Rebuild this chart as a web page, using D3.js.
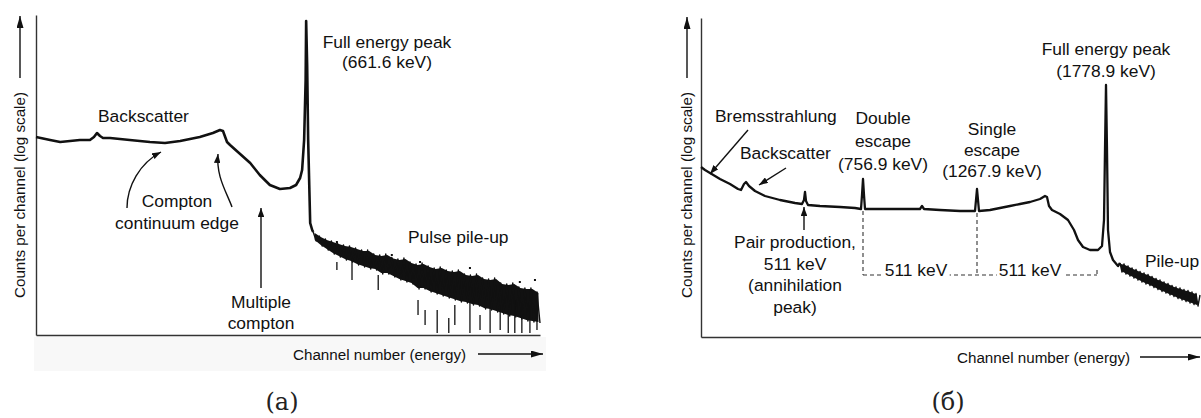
<!DOCTYPE html>
<html><head><meta charset="utf-8">
<script src="https://cdn.jsdelivr.net/npm/d3@7"></script>
<style>
body{margin:0;background:#fff}
svg{display:block}
text{font-family:"Liberation Sans",Arial,Helvetica,sans-serif;fill:#111}
.ann{font-size:17.4px}
.axl{font-size:15.2px}
.cap{font-family:"DejaVu Serif","Liberation Serif",serif;font-size:24px;fill:#222}
</style>
</head><body>
<svg id="c" width="1201" height="418"></svg>
<script>
// ---------------- DATA ----------------
// (a) Cs-137 spectrum: channel, log10(counts)
const csChannels = [0,28,48,87,107,115,121,127,133,147,186,226,256,286,325,351,365,371,379,385,405,425,444,464,484,504,516,524,528,532,535,536,538,540,544,548];
const csLogCounts = [3.96,3.90,3.86,3.90,3.90,3.96,4.04,3.98,3.94,3.94,3.90,3.86,3.84,3.88,3.96,4.04,4.10,4.08,3.86,3.80,3.62,3.44,3.20,3.00,2.92,2.94,3.00,3.14,3.30,3.90,5.10,6.28,5.40,3.90,2.24,2.10];
// (a) pulse pile-up region, channels 550.. step 6 (alternating upper / lower scatter)
const csPileupStart = 550, csPileupStep = 6;
const csPileupLog = [2.06,1.88,1.98,1.78,1.92,1.70,1.88,1.62,1.84,1.56,1.80,1.50,1.78,1.46,1.74,1.40,1.70,1.36,1.70,1.32,
  1.62,1.30,1.60,1.22,1.62,1.22,1.55,1.16,1.52,1.10,1.54,1.06,1.46,1.02,1.42,0.92,1.44,0.92,1.38,0.86,
  1.34,0.82,1.36,0.78,1.30,0.74,1.28,0.70,1.30,0.66,1.22,0.64,1.20,0.60,1.22,0.58,1.14,0.52,1.12,0.50,
  1.14,0.46,1.04,0.42,1.02,0.38,1.04,0.36,0.96,0.32,0.94,0.28,0.94,0.26,0.86,0.24];
// (a) sparse low-count streaks
const csStreakCh   = [597,627,679,758,772,796,819,831,861,881,901,921,937,950,964,980,994];
const csStreakLow  = [1.30,1.10,0.90,0.40,0.20,0.04,0.04,0.20,0.04,0.10,0.04,0.10,0.04,0.04,0.04,0.04,0.10];
const csStreakHigh = [1.46,1.50,1.20,0.70,0.50,0.50,0.34,0.60,0.70,0.40,0.70,0.60,0.50,0.70,0.40,0.60,0.70];
// (a) isolated counts above band
const csDotCh  = [597,613,706,762,861,960,990];
const csDotLog = [1.86,1.74,1.60,1.46,1.34,1.06,1.10];

// (б) spectrum with 1778.9 keV line: channel, log10(counts)
const alChannels = [0,8,18,38,58,74,80,86,90,96,108,128,158,188,202,206,208,210,214,238,278,308,320,322,324,326,328,358,398,438,442,446,478,518,548,550,552,554,556,578,598,618,638,658,678,688,692,696,702,718,734,746,754,764,778,794,802,806,808,810,812,814,818,824,834];
const alLogCounts = [3.40,3.34,3.28,3.16,3.06,2.96,2.94,3.06,3.10,3.02,2.92,2.82,2.74,2.68,2.66,2.74,2.90,2.72,2.64,2.62,2.60,2.58,2.56,2.84,3.16,2.84,2.56,2.56,2.56,2.56,2.62,2.56,2.54,2.52,2.52,2.74,2.96,2.74,2.52,2.54,2.58,2.62,2.66,2.70,2.76,2.82,2.80,2.62,2.54,2.46,2.34,2.14,1.94,1.80,1.74,1.74,1.82,2.34,3.74,5.04,3.74,2.14,1.70,1.54,1.42];
// (б) pile-up tail, channels 838.. step 4 (alternating upper / lower scatter)
const alTailStart = 838, alTailStep = 4;
const alTailLog = [1.48,1.30,1.46,1.26,1.42,1.22,1.38,1.18,1.35,1.14,1.31,1.10,1.28,1.06,1.25,1.03,1.21,0.99,1.17,0.95,
  1.14,0.91,1.10,0.88,1.07,0.84,1.03,0.81,1.00,0.77,0.98,0.74,0.95,0.71,0.93,0.68,0.90,0.65,0.87,0.62,0.84];
// (б) escape peaks and full energy peak bases (channel, log10 counts at base)
const alPeakCh = [324, 552, 792];
const alPeakBase = [2.56, 2.52, 1.38];
const alGapLevel = 1.24;
const alGapLabels = ["511 keV", "511 keV"];

// ---------------- DRAW ----------------
const svg = d3.select("#c");
const ink = "#111";
const defs = svg.append("defs");
function marker(id, w, h){
  defs.append("marker").attr("id", id).attr("viewBox", `0 0 ${w} ${h}`)
    .attr("refX", w).attr("refY", h/2).attr("markerWidth", w).attr("markerHeight", h)
    .attr("markerUnits", "userSpaceOnUse").attr("orient", "auto")
    .append("path").attr("d", `M0,0 L${w},${h/2} L0,${h} Z`).attr("fill", ink);
}
marker("big", 12, 7);
marker("sm", 9, 6.5);

// light scan tone under left axis
svg.append("rect").attr("x", 34).attr("y", 337).attr("width", 512).attr("height", 34).attr("fill", "#f8f8f8");

// scales
const xA = d3.scaleLinear().domain([0, 1000]).range([36, 540]);
const yA = d3.scaleLinear().domain([0, 6.4]).range([335, 15]);
const xB = d3.scaleLinear().domain([0, 1000]).range([701, 1201]);
const yB = d3.scaleLinear().domain([0, 6.38]).range([337, 18]);

function axes(x, y, x0, y0){
  const gx = svg.append("g").attr("transform", `translate(0,${y0})`)
    .call(d3.axisBottom(x).tickValues([]).tickSizeOuter(0));
  const gy = svg.append("g").attr("transform", `translate(${x0},0)`)
    .call(d3.axisLeft(y).tickValues([]).tickSizeOuter(0));
  [gx, gy].forEach(g => g.select(".domain").attr("stroke", "#333").attr("stroke-width", 1.4));
}
axes(xA, yA, 36, 335);
axes(xB, yB, 701, 337);

// noisy band: filled envelope of the upper/lower scatter, plus the jagged trace
function band(vals, start, step, x, y, sw){
  const pairs = [];
  for (let k = 0; k + 1 < vals.length; k += 2) {
    pairs.push({c: start + (k + 0.5) * step, hi: vals[k], lo: vals[k + 1]});
  }
  const area = d3.area().x(d => x(d.c)).y0(d => y(d.lo) - 1).y1(d => y(d.hi) + 1);
  svg.append("path").attr("d", area(pairs)).attr("fill", ink);
  const pts = vals.map((v, i) => [start + i * step, v]);
  svg.append("path").attr("d", d3.line().x(d => x(d[0])).y(d => y(d[1]))(pts))
    .attr("fill", "none").attr("stroke", ink).attr("stroke-width", sw).attr("stroke-linejoin", "round");
}

// (a) curve
const csMain = csChannels.map((c, i) => [c, csLogCounts[i]]);
const lineA = d3.line().x(d => xA(d[0])).y(d => yA(d[1]));
svg.append("path").attr("d", lineA(csMain.concat([[csPileupStart, csPileupLog[0]]]))).attr("fill", "none").attr("stroke", ink)
  .attr("stroke-width", 2.6).attr("stroke-linejoin", "round");
band(csPileupLog, csPileupStart, csPileupStep, xA, yA, 1.4);
svg.append("g").selectAll("line").data(csStreakCh).join("line")
  .attr("x1", d => xA(d)).attr("x2", d => xA(d))
  .attr("y1", (d, i) => yA(csStreakLow[i])).attr("y2", (d, i) => yA(csStreakHigh[i]))
  .attr("stroke", ink).attr("stroke-width", 1.3);
svg.append("g").selectAll("rect").data(csDotCh).join("rect")
  .attr("x", d => xA(d) - 1).attr("y", (d, i) => yA(csDotLog[i]) - 1).attr("width", 2).attr("height", 2).attr("fill", ink);

// (б) curve
const alMain = alChannels.map((c, i) => [c, alLogCounts[i]]);
const lineB = d3.line().x(d => xB(d[0])).y(d => yB(d[1]));
svg.append("path").attr("d", lineB(alMain.concat([[alTailStart, alTailLog[0]]]))).attr("fill", "none").attr("stroke", ink)
  .attr("stroke-width", 2.3).attr("stroke-linejoin", "round");
band(alTailLog, alTailStart, alTailStep, xB, yB, 1.4);

// (б) dashed 511 keV gaps
const dash = {stroke: "#333", "stroke-width": 1.1, "stroke-dasharray": "4,3"};
function dashed(x1, y1, x2, y2){
  const l = svg.append("line").attr("x1", x1).attr("y1", y1).attr("x2", x2).attr("y2", y2);
  Object.entries(dash).forEach(([k, v]) => l.attr(k, v));
}
alPeakCh.forEach((c, i) => dashed(xB(c), yB(alPeakBase[i]) + 2, xB(c), yB(alGapLevel)));
dashed(xB(alPeakCh[0]), yB(alGapLevel), xB(alPeakCh[2]), yB(alGapLevel));
const gapCenters = [916, 1030];
alGapLabels.forEach((t, i) => {
  const tx = svg.append("text").attr("class", "ann").attr("x", gapCenters[i]).attr("y", yB(alGapLevel) + 1)
    .attr("text-anchor", "middle").text(t);
  const b = tx.node().getBBox();
  svg.insert("rect", () => tx.node()).attr("x", b.x - 2).attr("y", b.y).attr("width", b.width + 4)
    .attr("height", b.height - 3).attr("fill", "#fff");
});

// ---------- text helpers ----------
function label(x, y, lines, anchor, dy, cls){
  const t = svg.append("text").attr("class", cls || "ann").attr("text-anchor", anchor || "middle");
  lines.forEach((s, i) => t.append("tspan").attr("x", x).attr("y", y + i * (dy || 22)).text(s));
  return t;
}
function arrowPath(d, m){
  svg.append("path").attr("d", d).attr("fill", "none").attr("stroke", ink).attr("stroke-width", 1.4)
    .attr("marker-end", `url(#${m || "sm"})`);
}

// (a) annotations
label(98, 122, ["Backscatter"], "start");
label(387, 48, ["Full energy peak", "(661.6 keV)"], "middle", 20);
label(177, 207, ["Compton", "continuum edge"], "middle", 22);
label(261, 308, ["Multiple", "compton"], "middle", 21);
label(408, 243, ["Pulse pile-up"], "start");
arrowPath("M127,208 C127,186 140,163 161,152");
arrowPath("M232,207 C226,191 216,176 218,154");
arrowPath("M261,288 L261,208");

// (б) annotations
label(715, 122, ["Bremsstrahlung"], "start");
label(740, 159, ["Backscatter"], "start");
label(883, 124, ["Double", "escape", "(756.9 keV)"], "middle", 23);
label(992, 135, ["Single", "escape", "(1267.9 keV)"], "middle", 21);
label(1106, 55, ["Full energy peak", "(1778.9 keV)"], "middle", 22);
label(795, 248, ["Pair production,", "511 keV", "(annihilation", "peak)"], "middle", 21.5);
label(1145, 267, ["Pile-up"], "start");
arrowPath("M748,130 L710,174");
arrowPath("M786,168 L759,185");
arrowPath("M804,230 L804,207");

// axis titles
svg.append("text").attr("class", "axl").attr("transform", "translate(25,298) rotate(-90)").text("Counts per channel (log scale)");
arrowPath("M20,78 L20,16", "big");
svg.append("text").attr("class", "axl").attr("x", 293).attr("y", 359.5).text("Channel number (energy)");
arrowPath("M478,354 L543,354", "big");

svg.append("text").attr("class", "axl").attr("transform", "translate(692,298) rotate(-90)").text("Counts per channel (log scale)");
arrowPath("M687,78 L687,17", "big");
svg.append("text").attr("class", "axl").attr("x", 957).attr("y", 362.5).text("Channel number (energy)");
arrowPath("M1140,357 L1200,357", "big");

// captions
svg.append("text").attr("class", "cap").attr("x", 282).attr("y", 410).attr("text-anchor", "middle").text("(a)");
svg.append("text").attr("class", "cap").attr("x", 948).attr("y", 410).attr("text-anchor", "middle").text("(б)");
</script>
</body></html>
